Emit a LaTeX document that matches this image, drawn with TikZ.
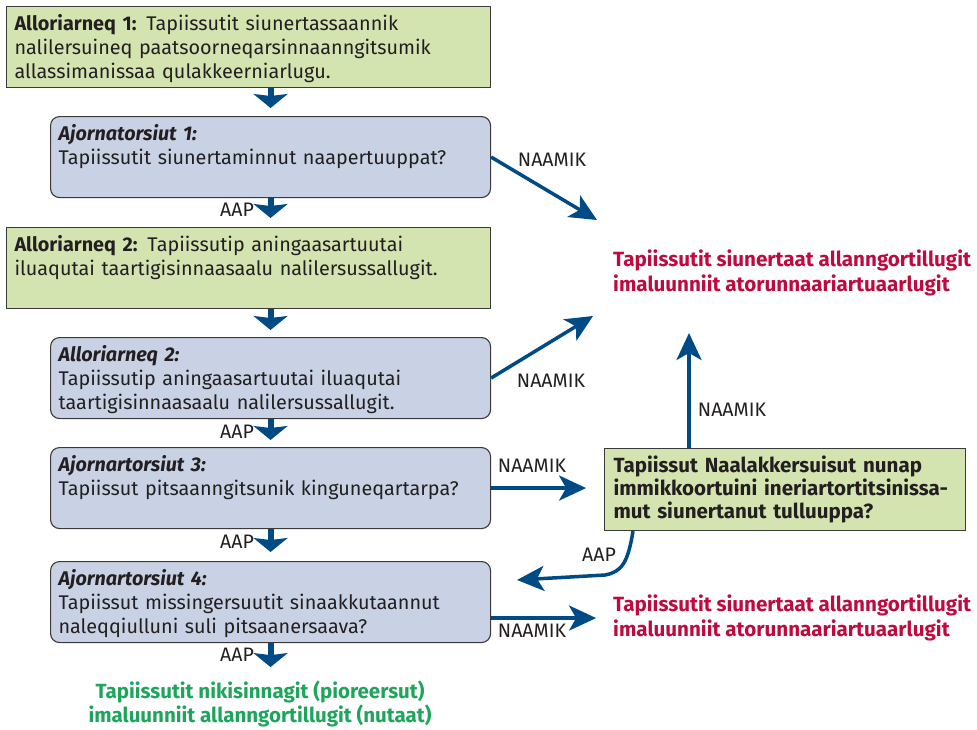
\documentclass[tikz,border=0pt]{standalone}
\usepackage{fontspec}
\setmainfont{Fira Sans}
\usetikzlibrary{arrows.meta,calc}
\definecolor{boxgreen}{HTML}{D3E4B1}
\definecolor{boxblue}{HTML}{C9D2E5}
\definecolor{boxline}{HTML}{3A3A3A}
\definecolor{flowblue}{HTML}{004B85}
\definecolor{resred}{HTML}{BE0A3F}
\definecolor{resgreen}{HTML}{1DA55B}
\definecolor{inkgray}{HTML}{231F20}
\tikzset{
  greenbox/.style={draw=boxline, fill=boxgreen, line width=1.1pt, anchor=north west,
    text width=468pt, inner xsep=8pt, inner ysep=0pt, align=left, text=inkgray,
    text height=24pt, text depth=57pt, font=\fontsize{19.8}{24}\selectfont},
  bluebox/.style={greenbox, fill=boxblue, rounded corners=9pt, text width=424pt},
  restext/.style={anchor=west, align=left, inner sep=0pt,
    font=\bfseries\fontsize{20.6}{25}\selectfont},
  lbl/.style={inner sep=0pt, text=inkgray, font=\fontsize{19.5}{20}\selectfont},
  downarrow/.style={draw=flowblue, line width=6pt,
    -{Stealth[length=14pt,width=34pt,inset=2pt]}},
  sidearrow/.style={draw=flowblue, line width=3.5pt,
    -{Stealth[length=27pt,width=25pt,inset=7pt]}}
}
\begin{document}
\begin{tikzpicture}[x=1pt,y=-1pt]
  \useasboundingbox (0,0) rectangle (977,729);
  % left column
  \node[greenbox] (a1) at (6,6) {\textbf{Alloriarneq 1:} Tapiissutit siunertassaannik\\
    nalilersuineq paatsoorneqarsinnaanngitsumik\\ allassimanissaa qulakkeerniarlugu.};
  \node[bluebox] (q1) at (50,116) {\textbf{\textit{Ajornatorsiut 1:}}\\
    Tapiissutit siunertaminnut naapertuuppat?};
  \node[greenbox] (a2) at (6,227) {\textbf{Alloriarneq 2:} Tapiissutip aningaasartuutai\\
    iluaqutai taartigisinnaasaalu nalilersussallugit.};
  \node[bluebox] (q2) at (50,337) {\textbf{\textit{Alloriarneq 2:}}\\
    Tapiissutip aningaasartuutai iluaqutai\\ taartigisinnaasaalu nalilersussallugit.};
  \node[bluebox] (q3) at (50,447) {\textbf{\textit{Ajornartorsiut 3:}}\\
    Tapiissut pitsaanngitsunik kinguneqartarpa?};
  \node[bluebox] (q4) at (50,561) {\textbf{\textit{Ajornartorsiut 4:}}\\
    Tapiissut missingersuutit sinaakkutaannut\\ naleqqiulluni suli pitsaanersaava?};
  % right column
  \node[greenbox, text width=343pt, inner xsep=9pt, text height=24pt, text depth=58pt,
    font=\bfseries\fontsize{20.5}{23}\selectfont] (q5) at (604,448)
    {Tapiissut Naalakkersuisut nunap\\ immikkoortuini ineriartortitsinissa-\\
    mut siunertanut tulluuppa?};
  \node[restext, text=resred] (r1) at (613,272.5) {Tapiissutit siunertaat allanngortillugit\\
    imaluunniit atorunnaariartuaarlugit};
  \node[restext, text=resred] (r2) at (613,618) {Tapiissutit siunertaat allanngortillugit\\
    imaluunniit atorunnaariartuaarlugit};
  \node[restext, text=resgreen, anchor=center, align=center,
    font=\bfseries\fontsize{20.5}{24}\selectfont] (r3) at (260,704)
    {Tapiissutit nikisinnagit (pioreersut)\\ imaluunniit allanngortillugit (nutaat)};
  %
  \draw[downarrow] (a1.south -| q1.north) -- ($(q1.north)+(0,-8)$);
  \draw[downarrow] (q1.south) -- ($(q1.south |- a2.north)+(0,-9)$);
  \draw[downarrow] (a2.south -| q2.north) -- ($(q2.north)+(0,-7)$);
  \draw[downarrow] (q2.south) -- ($(q3.north)+(0,-7)$);
  \draw[downarrow] (q3.south) -- ($(q4.north)+(0,-9)$);
  \draw[downarrow] (q4.south) -- ($(q4.south)+(0,24)$);
  %
  \coordinate (t1) at (597,220);
  \coordinate (t2) at (593,316);
  \coordinate (t4) at (689,333);
  \coordinate (t5) at (517,580);
  \draw[sidearrow] (q1.east) -- (t1);
  \draw[sidearrow] (q2.east) -- (t2);
  \draw[sidearrow] (q3.east) -- ($(q3.east)+(95,0)$);
  \draw[sidearrow] ($(q5.north west)+(85,0)$) -- (t4);
  \draw[sidearrow] ($(q5.south west)+(29,0)$) .. controls (628,562) and (622,572) .. (605,575) -- (t5);
  \draw[sidearrow] ($(q4.east)+(0,16)$) -- ++(105,0);
  %
  \node[lbl] (y1) at (237,210) {AAP};
  \node[lbl] (y2) at (237,432) {AAP};
  \node[lbl] (y3) at (237,542) {AAP};
  \node[lbl] (y4) at (237,655) {AAP};
  \node[lbl] (y5) at (599,555) {AAP};
  \node[lbl] (n1) at (552,160) {NAAMIK};
  \node[lbl] (n2) at (551,381) {NAAMIK};
  \node[lbl] (n3) at (532,466) {NAAMIK};
  \node[lbl] (n4) at (732,410) {NAAMIK};
  \node[lbl] (n5) at (532,631) {NAAMIK};
\end{tikzpicture}
\end{document}
